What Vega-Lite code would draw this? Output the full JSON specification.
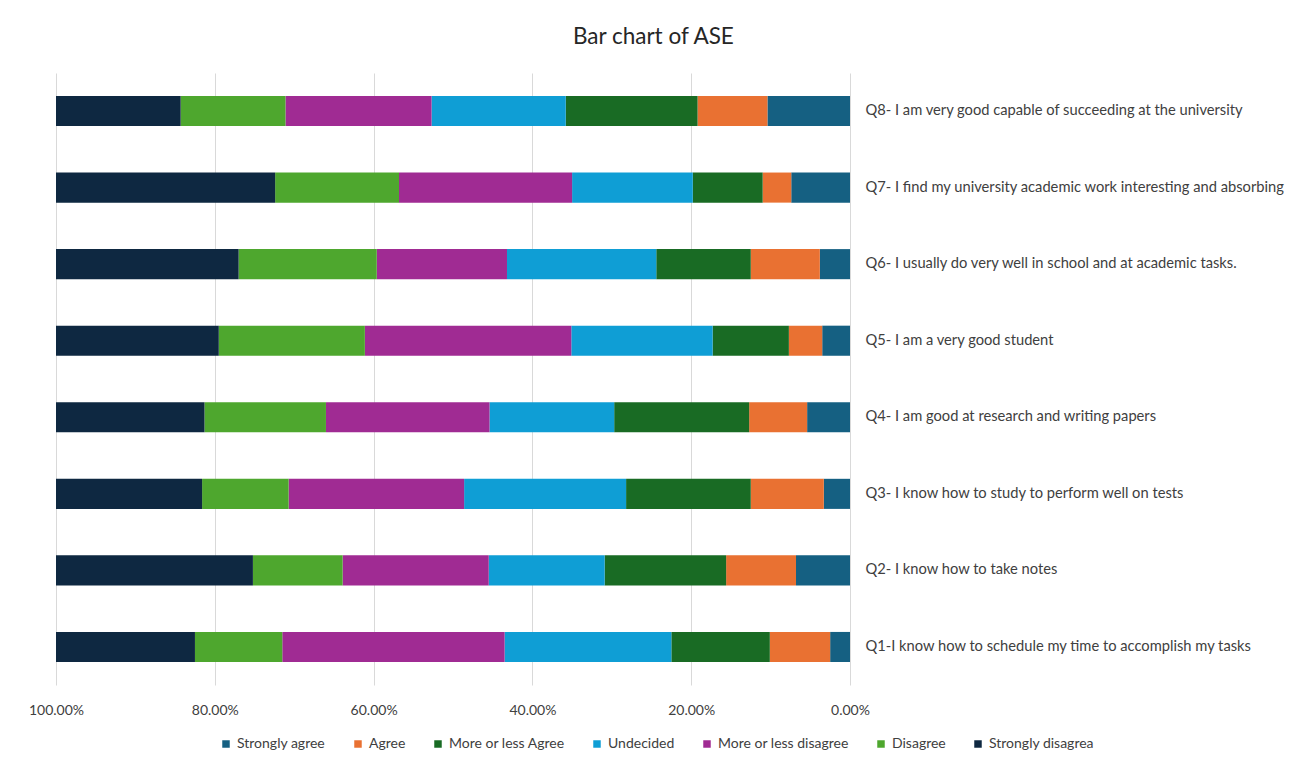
{
  "$schema": "https://vega.github.io/schema/vega-lite/v6.json",
  "autosize": {"type": "none"},
  "padding": {"left": 56, "top": 73, "right": 449, "bottom": 83},
  "width": 794,
  "height": 612,
  "background": "white",
  "title": {
    "text": "Bar chart of ASE",
    "anchor": "middle",
    "frame": "bounds",
    "fontSize": 22.5,
    "font": "Lato",
    "fontWeight": "normal",
    "color": "#262626",
    "offset": 25,
    "dx": -3
  },
  "config": {
    "view": {"stroke": null},
    "font": "Lato"
  },
  "data": {
    "values": [
      {"q": "Q8- I am very good capable of succeeding at the university", "c": "Strongly agree", "k": 1, "v": 0.104},
      {"q": "Q8- I am very good capable of succeeding at the university", "c": "Agree", "k": 2, "v": 0.088},
      {"q": "Q8- I am very good capable of succeeding at the university", "c": "More or less Agree", "k": 3, "v": 0.166},
      {"q": "Q8- I am very good capable of succeeding at the university", "c": "Undecided", "k": 4, "v": 0.169},
      {"q": "Q8- I am very good capable of succeeding at the university", "c": "More or less disagree", "k": 5, "v": 0.184},
      {"q": "Q8- I am very good capable of succeeding at the university", "c": "Disagree", "k": 6, "v": 0.132},
      {"q": "Q8- I am very good capable of succeeding at the university", "c": "Strongly disagrea", "k": 7, "v": 0.157},
      {"q": "Q7- I find my university academic work interesting and absorbing", "c": "Strongly agree", "k": 1, "v": 0.074},
      {"q": "Q7- I find my university academic work interesting and absorbing", "c": "Agree", "k": 2, "v": 0.036},
      {"q": "Q7- I find my university academic work interesting and absorbing", "c": "More or less Agree", "k": 3, "v": 0.088},
      {"q": "Q7- I find my university academic work interesting and absorbing", "c": "Undecided", "k": 4, "v": 0.152},
      {"q": "Q7- I find my university academic work interesting and absorbing", "c": "More or less disagree", "k": 5, "v": 0.218},
      {"q": "Q7- I find my university academic work interesting and absorbing", "c": "Disagree", "k": 6, "v": 0.156},
      {"q": "Q7- I find my university academic work interesting and absorbing", "c": "Strongly disagrea", "k": 7, "v": 0.276},
      {"q": "Q6- I usually do very well in school and at academic tasks.", "c": "Strongly agree", "k": 1, "v": 0.038},
      {"q": "Q6- I usually do very well in school and at academic tasks.", "c": "Agree", "k": 2, "v": 0.087},
      {"q": "Q6- I usually do very well in school and at academic tasks.", "c": "More or less Agree", "k": 3, "v": 0.119},
      {"q": "Q6- I usually do very well in school and at academic tasks.", "c": "Undecided", "k": 4, "v": 0.188},
      {"q": "Q6- I usually do very well in school and at academic tasks.", "c": "More or less disagree", "k": 5, "v": 0.164},
      {"q": "Q6- I usually do very well in school and at academic tasks.", "c": "Disagree", "k": 6, "v": 0.174},
      {"q": "Q6- I usually do very well in school and at academic tasks.", "c": "Strongly disagrea", "k": 7, "v": 0.230},
      {"q": "Q5- I am a very good student", "c": "Strongly agree", "k": 1, "v": 0.035},
      {"q": "Q5- I am a very good student", "c": "Agree", "k": 2, "v": 0.042},
      {"q": "Q5- I am a very good student", "c": "More or less Agree", "k": 3, "v": 0.096},
      {"q": "Q5- I am a very good student", "c": "Undecided", "k": 4, "v": 0.178},
      {"q": "Q5- I am a very good student", "c": "More or less disagree", "k": 5, "v": 0.260},
      {"q": "Q5- I am a very good student", "c": "Disagree", "k": 6, "v": 0.184},
      {"q": "Q5- I am a very good student", "c": "Strongly disagrea", "k": 7, "v": 0.205},
      {"q": "Q4- I am good at research and writing papers", "c": "Strongly agree", "k": 1, "v": 0.054},
      {"q": "Q4- I am good at research and writing papers", "c": "Agree", "k": 2, "v": 0.073},
      {"q": "Q4- I am good at research and writing papers", "c": "More or less Agree", "k": 3, "v": 0.170},
      {"q": "Q4- I am good at research and writing papers", "c": "Undecided", "k": 4, "v": 0.157},
      {"q": "Q4- I am good at research and writing papers", "c": "More or less disagree", "k": 5, "v": 0.206},
      {"q": "Q4- I am good at research and writing papers", "c": "Disagree", "k": 6, "v": 0.153},
      {"q": "Q4- I am good at research and writing papers", "c": "Strongly disagrea", "k": 7, "v": 0.187},
      {"q": "Q3- I know how to study to perform well on tests", "c": "Strongly agree", "k": 1, "v": 0.033},
      {"q": "Q3- I know how to study to perform well on tests", "c": "Agree", "k": 2, "v": 0.092},
      {"q": "Q3- I know how to study to perform well on tests", "c": "More or less Agree", "k": 3, "v": 0.157},
      {"q": "Q3- I know how to study to perform well on tests", "c": "Undecided", "k": 4, "v": 0.204},
      {"q": "Q3- I know how to study to perform well on tests", "c": "More or less disagree", "k": 5, "v": 0.221},
      {"q": "Q3- I know how to study to perform well on tests", "c": "Disagree", "k": 6, "v": 0.109},
      {"q": "Q3- I know how to study to perform well on tests", "c": "Strongly disagrea", "k": 7, "v": 0.184},
      {"q": "Q2- I know how to take notes", "c": "Strongly agree", "k": 1, "v": 0.068},
      {"q": "Q2- I know how to take notes", "c": "Agree", "k": 2, "v": 0.088},
      {"q": "Q2- I know how to take notes", "c": "More or less Agree", "k": 3, "v": 0.153},
      {"q": "Q2- I know how to take notes", "c": "Undecided", "k": 4, "v": 0.146},
      {"q": "Q2- I know how to take notes", "c": "More or less disagree", "k": 5, "v": 0.184},
      {"q": "Q2- I know how to take notes", "c": "Disagree", "k": 6, "v": 0.113},
      {"q": "Q2- I know how to take notes", "c": "Strongly disagrea", "k": 7, "v": 0.248},
      {"q": "Q1-I know how to schedule my time to accomplish my tasks", "c": "Strongly agree", "k": 1, "v": 0.025},
      {"q": "Q1-I know how to schedule my time to accomplish my tasks", "c": "Agree", "k": 2, "v": 0.076},
      {"q": "Q1-I know how to schedule my time to accomplish my tasks", "c": "More or less Agree", "k": 3, "v": 0.124},
      {"q": "Q1-I know how to schedule my time to accomplish my tasks", "c": "Undecided", "k": 4, "v": 0.210},
      {"q": "Q1-I know how to schedule my time to accomplish my tasks", "c": "More or less disagree", "k": 5, "v": 0.280},
      {"q": "Q1-I know how to schedule my time to accomplish my tasks", "c": "Disagree", "k": 6, "v": 0.110},
      {"q": "Q1-I know how to schedule my time to accomplish my tasks", "c": "Strongly disagrea", "k": 7, "v": 0.175}
    ]
  },
  "mark": {"type": "bar"},
  "encoding": {
    "y": {
      "field": "q",
      "type": "nominal",
      "sort": [
        "Q8- I am very good capable of succeeding at the university",
        "Q7- I find my university academic work interesting and absorbing",
        "Q6- I usually do very well in school and at academic tasks.",
        "Q5- I am a very good student",
        "Q4- I am good at research and writing papers",
        "Q3- I know how to study to perform well on tests",
        "Q2- I know how to take notes",
        "Q1-I know how to schedule my time to accomplish my tasks"
      ],
      "scale": {"paddingInner": 0.607, "paddingOuter": 0.3},
      "axis": {
        "orient": "right",
        "title": null,
        "domain": false,
        "ticks": false,
        "labelPadding": 15,
        "labelLimit": 600,
        "labelFontSize": 14.7,
        "labelColor": "#404040",
        "labelFont": "Lato"
      }
    },
    "x": {
      "field": "v",
      "type": "quantitative",
      "stack": "zero",
      "scale": {"domain": [0, 1], "reverse": true, "nice": false},
      "axis": {
        "title": null,
        "format": ".2%",
        "values": [0, 0.2, 0.4, 0.6, 0.8, 1],
        "domain": false,
        "ticks": false,
        "grid": true,
        "gridColor": "#d9d9d9",
        "gridWidth": 1,
        "labelFlush": false,
        "labelPadding": 18,
        "labelFontSize": 14,
        "labelColor": "#404040",
        "labelFont": "Lato"
      }
    },
    "color": {
      "field": "c",
      "type": "nominal",
      "scale": {
        "domain": ["Strongly agree", "Agree", "More or less Agree", "Undecided", "More or less disagree", "Disagree", "Strongly disagrea"],
        "range": ["#156082", "#E97132", "#196B24", "#0F9ED5", "#A02B93", "#4EA72E", "#0E2841"]
      },
      "legend": {
        "title": null,
        "orient": "none",
        "legendX": 163,
        "legendY": 664,
        "direction": "horizontal",
        "symbolType": "square",
        "symbolSize": 56,
        "symbolStrokeWidth": 0,
        "labelFontSize": 14,
        "labelColor": "#404040",
        "labelFont": "Lato",
        "labelOffset": 4,
        "columnPadding": 25
      }
    },
    "order": {"field": "k", "type": "quantitative", "sort": "ascending"}
  }
}
